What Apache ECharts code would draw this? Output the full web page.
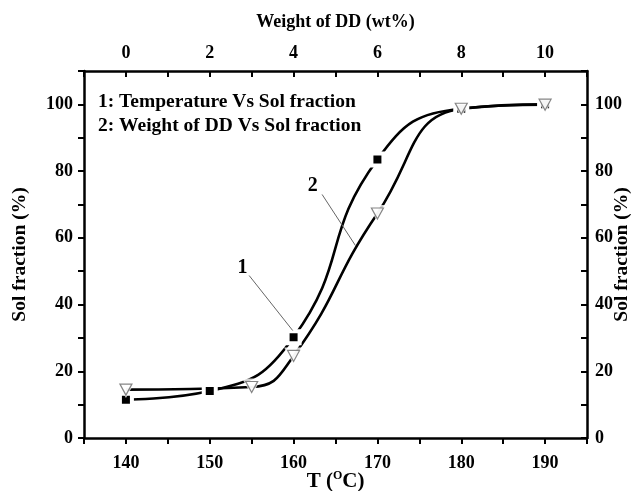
<!DOCTYPE html>
<html>
<head>
<meta charset="utf-8">
<script src="https://cdn.jsdelivr.net/npm/echarts@6/dist/echarts.min.js"></script>
<style>
html,body{margin:0;padding:0;background:#fff;}
#main{width:631px;height:491px;}
</style>
</head>
<body>
<div id="main"></div>
<script>
// 温度 / Sol fraction
var tempX = [140, 150, 160, 170, 180, 190];
var tempSol = [11.5, 14.1, 30.2, 83.5, 98.7, 100];
// DD 含量 / Sol fraction
var ddX = [0, 3, 4, 6, 8, 10];
var ddSol = [14.5, 15.3, 24.6, 67.3, 98.7, 99.9];
// 图注文字
var legendLines = ['1: Temperature Vs Sol fraction', '2: Weight of DD Vs Sol fraction'];

var FONT = 'Liberation Serif';
var tri = 'path://M0,0L20,0L10,18Z';

function pairs(xs, ys){
    var arr = [];
    for(var i=0;i<xs.length;i++){
        arr.push([xs[i], ys[i]]);
    }
    return arr;
}

function tickLabel(fn, margin){
    return {show:true, margin:margin, formatter:fn, color:'#000', fontFamily:FONT, fontWeight:'bold', fontSize:18,
            showMinLabel:true, showMaxLabel:true};
}
function tick(inside){
    return {show:true, inside:inside, length:6, lineStyle:{color:'#000', width:2}};
}
function nameStyle(size){
    return {fontFamily:FONT, fontWeight:'bold', fontSize:size, color:'#000'};
}

var axisLine = {show:true, onZero:false, lineStyle:{color:'#000', width:2.5}};
var ySol = function(v){ return (v % 20 === 0 && v <= 100) ? v : ''; };

// 引线位置 (数据坐标)
var leader1 = [[154.7, 48.7], [159.9, 32.2]];
var leader2 = [[163.4, 73.0], [167.4, 57.6]];
var tag1 = [153.9, 51.1];
var tag2 = [162.3, 75.5];

var myChart = echarts.init(document.getElementById('main'));
var option = {
    backgroundColor:'#fff',
    animation:false,
    grid:{left:84, right:44, top:71, bottom:53, outerBoundsMode:'none', containLabel:false},
    graphic:[
        {type:'text', left:98, top:92, style:{text:legendLines[0], font:'bold 19.5px "Liberation Serif"', fill:'#000'}},
        {type:'text', left:98, top:116, style:{text:legendLines[1], font:'bold 19.5px "Liberation Serif"', fill:'#000'}}
    ],
    xAxis:[{
        type:'value', position:'bottom', min:135, max:195, interval:5,
        axisLine:axisLine, axisTick:tick(false), splitLine:{show:false},
        axisLabel:tickLabel(function(v){ return v % 10 === 0 ? v : ''; }, 16),
        name:'{a|T (}{s|O}{a|C)}', nameLocation:'middle', nameGap:32, nameMoveOverlap:false,
        nameTextStyle:{rich:{
            a:{fontFamily:FONT, fontWeight:'bold', fontSize:21, color:'#000'},
            s:{fontFamily:FONT, fontWeight:'bold', fontSize:12, color:'#000', padding:[0,0,12,0]}
        }}
    },{
        type:'value', position:'top', min:-1, max:11, interval:1,
        axisLine:axisLine, axisTick:tick(true), splitLine:{show:false},
        axisLabel:tickLabel(function(v){ return (v % 2 === 0 && v >= 0 && v <= 10) ? v : ''; }, 9),
        name:'Weight of DD (wt%)', nameLocation:'middle', nameGap:40, nameMoveOverlap:false,
        nameTextStyle:nameStyle(18)
    }],
    yAxis:[{
        type:'value', position:'left', min:0, max:110, interval:10,
        axisLine:axisLine, axisTick:tick(false), splitLine:{show:false},
        axisLabel:tickLabel(ySol, 11),
        name:'Sol fraction (%)', nameLocation:'middle', nameGap:54, nameMoveOverlap:false,
        nameTextStyle:nameStyle(19.5)
    },{
        type:'value', position:'right', min:0, max:110, interval:10,
        axisLine:axisLine, axisTick:tick(true), splitLine:{show:false},
        axisLabel:tickLabel(ySol, 8),
        name:'Sol fraction (%)', nameLocation:'middle', nameGap:25, nameRotate:90, nameMoveOverlap:false,
        nameTextStyle:nameStyle(19.5)
    }],
    series:[{
        name:'Temperature', type:'line', xAxisIndex:0, yAxisIndex:0,
        data:pairs(tempX, tempSol),
        smooth:0.5, smoothConstraint:false,
        lineStyle:{color:'#000', width:2.6},
        symbol:'rect', symbolSize:12,
        itemStyle:{color:'#000', borderColor:'#fff', borderWidth:4},
        z:2,
        markLine:{
            silent:true, symbol:'none', label:{show:false},
            lineStyle:{color:'#666', width:1, type:'solid'},
            data:[
                [{coord:leader1[0]}, {coord:leader1[1]}],
                [{coord:leader2[0]}, {coord:leader2[1]}]
            ]
        },
        markPoint:{
            silent:true, symbol:'circle', symbolSize:0,
            label:{show:true, position:'inside', color:'#000', fontFamily:FONT, fontWeight:'bold', fontSize:20, formatter:'{b}'},
            data:[{name:'1', coord:tag1}, {name:'2', coord:tag2}]
        }
    },{
        name:'Weight of DD', type:'line', xAxisIndex:1, yAxisIndex:0,
        data:pairs(ddX, ddSol),
        smooth:0.5, smoothConstraint:false,
        lineStyle:{color:'#000', width:2.6},
        showSymbol:false, symbol:'none',
        z:2
    },{
        // 三角形周围留白
        type:'scatter', xAxisIndex:1, yAxisIndex:0,
        data:pairs(ddX, ddSol),
        symbol:tri, symbolSize:[19, 17],
        itemStyle:{color:'#fff'},
        z:3, silent:true
    },{
        type:'scatter', xAxisIndex:1, yAxisIndex:0,
        data:pairs(ddX, ddSol),
        symbol:tri, symbolSize:[12, 11],
        itemStyle:{color:'#fff', borderColor:'#666', borderWidth:1.2},
        z:4
    }]
};

myChart.setOption(option);
</script>
</body>
</html>
